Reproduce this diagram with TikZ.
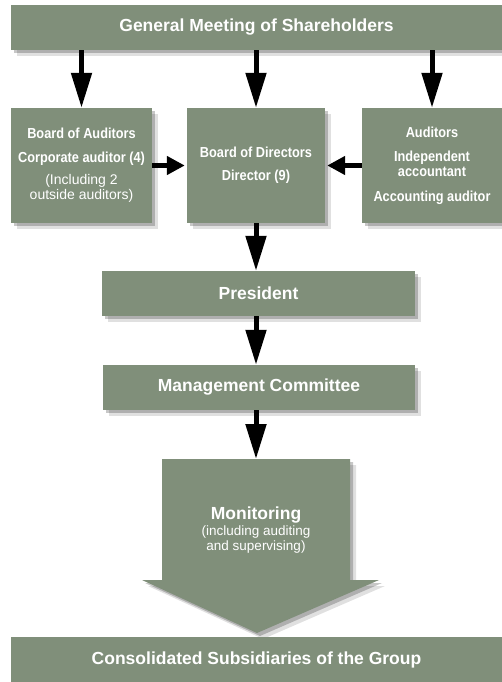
\documentclass[tikz,border=0pt]{standalone}
\usepackage{fontspec}
\setmainfont{Liberation Sans}
\newfontfamily\condfont[FakeStretch=0.88]{Liberation Sans}
\usetikzlibrary{arrows.meta,shadows}
\definecolor{sage}{RGB}{128,143,122}

\begin{document}
\begin{tikzpicture}[x=1pt,y=-1pt,
	dropshade/.style={drop shadow={shadow xshift=6pt,shadow yshift=-6pt,opacity=0.12,fill=black},
		drop shadow={shadow xshift=3pt,shadow yshift=-3pt,opacity=0.22,fill=black}},
	box/.style={dropshade,fill=sage,text=white,inner sep=0pt,align=center},
	big/.style={font=\fontsize{17.5}{20}\selectfont\bfseries},
	small/.style={font=\condfont\fontsize{14.5}{15}\selectfont\bfseries},
	down/.style={-{Triangle[width=20pt,length=35pt]},line width=5pt},
	side/.style={-{Triangle[width=18pt,length=18pt]},line width=5pt}]
	\useasboundingbox (0,0) rectangle (502,682);

	\node[box,big,minimum width=491pt,minimum height=45pt] (gm) at (256.5,27.5) {General Meeting of Shareholders};

	\node[box,small,minimum width=141pt,minimum height=115pt] (ba) at (81.5,165.5) {Board of Auditors\\[9pt]Corporate auditor (4)\\[7pt]\normalfont\fontsize{14}{15}\selectfont (Including 2\\\normalfont\fontsize{14}{15}\selectfont outside auditors)};
	\node[box,small,minimum width=138pt,minimum height=115pt] (bd) at (256,165.5) {Board of Directors\\[8pt]Director (9)};
	\node[box,small,minimum width=140pt,minimum height=115pt] (au) at (432,165.5) {Auditors\\[9pt]Independent\\accountant\\[10pt]Accounting auditor};

	\node[box,big,minimum width=313pt,minimum height=45pt] (pr) at (258.5,293.5) {President};
	\node[box,big,minimum width=312pt,minimum height=45pt] (mc) at (259,387.5) {Management Committee};

	\path[dropshade,fill=sage] (162,459) -- (350,459) -- (350,580) -- (379,580) -- (257,633) -- (142,580) -- (162,580) -- cycle;
	\coordinate (montop) at (256,459);
	\node[text=white,big] (mon) at (256,515) {Monitoring};
	\node[text=white,align=center,font=\fontsize{13.5}{15}\selectfont] (monnote) at (256,540) {(including auditing\\and supervising)};

	\node[box,big,minimum width=491pt,minimum height=45pt] (cs) at (256.5,659.5) {Consolidated Subsidiaries of the Group};

	\draw[down] (gm.south -| ba.north) -- (ba.north);
	\draw[down] (gm.south -| bd.north) -- (bd.north);
	\draw[down] (gm.south -| au.north) -- (au.north);
	\draw[side,shorten >=2pt] (ba.east) -- (bd.west);
	\draw[side,shorten >=2pt] (au.west) -- (bd.east);
	\draw[down] (bd.south) -- (bd.south |- pr.north);
	\draw[down] (pr.south -| bd.south) -- (mc.north -| bd.south);
	\draw[down] (mc.south -| montop) -- (montop);
\end{tikzpicture}
\end{document}
